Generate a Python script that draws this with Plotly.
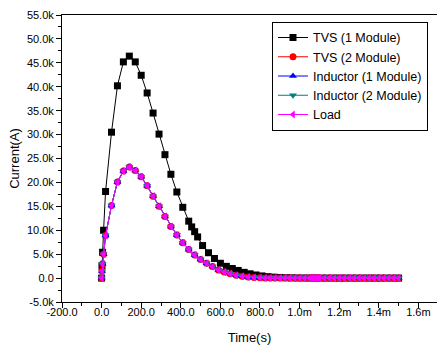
import plotly.graph_objects as go

# Time in microseconds, current in kA
t_tvs1 = [0, 2, 5, 10, 20, 50, 80, 110, 140, 170, 200, 230, 260, 290, 320, 350, 380, 410, 440,
          455, 470, 485, 510, 540, 570, 600, 630, 660, 690, 720, 750, 780, 810, 840, 870, 900,
          930, 960, 990, 1020, 1050, 1080, 1110, 1140, 1170, 1200, 1230, 1260, 1290, 1320,
          1350, 1380, 1410, 1440, 1470, 1500]
i_tvs1 = [0, 2.6, 5.4, 10.0, 18.1, 30.5, 40.2, 45.2, 46.4, 45.2, 42.4, 38.7, 34.5, 30.1, 25.8,
          21.7, 18.0, 14.8, 11.9, 10.7, 9.7, 8.6, 6.8, 5.3, 4.1, 3.1, 2.45, 2.0, 1.6, 1.2, 0.9,
          0.65, 0.45, 0.3, 0.2, 0.13, 0.08, 0.05, 0.03, 0.02, 0.01, 0.01, 0.0, 0.0, 0.0, 0.0,
          0.0, 0.0, 0.0, 0.0, 0.0, 0.0, 0.0, 0.0, 0.0, 0.0]

t_2mod = [0, 2, 5, 10, 20, 50, 80, 110, 140, 170, 200, 230, 260, 290, 320, 350, 380, 410, 440,
          470, 500, 530, 560, 590, 620, 650, 680, 710, 740, 770, 800, 825, 850, 875, 900, 925,
          950, 975, 1000, 1025, 1050, 1060, 1070, 1080, 1090, 1100, 1125, 1150, 1175, 1200,
          1225, 1250, 1275, 1300, 1325, 1350, 1375, 1400, 1425, 1450, 1475, 1500]
i_tvs2 = [0, 1.5, 3.0, 5.0, 8.9, 15.2, 20.1, 22.4, 23.2, 22.5, 21.2, 19.3, 17.1, 15.0, 12.9,
          10.8, 9.0, 7.4, 6.0, 4.8, 3.9, 3.1, 2.4, 1.7, 1.25, 0.9, 0.6, 0.38, 0.22, 0.12, 0.06,
          0.03, 0.02, 0.01, 0.0, 0.0, 0.0, 0.0, 0.0, 0.0, 0.0, 0.0, 0.0, 0.0, 0.0, 0.0, 0.0,
          0.0, 0.0, 0.0, 0.0, 0.0, 0.0, 0.0, 0.0, 0.0, 0.0, 0.0, 0.0, 0.0, 0.0, 0.0]
i_ind1 = [0, 1.5, 3.0, 5.0, 8.9, 15.2, 20.1, 22.4, 23.2, 22.5, 21.2, 19.3, 17.1, 15.0, 12.9,
          10.8, 9.0, 7.4, 6.0, 4.8, 3.9, 3.1, 2.4, 1.7, 1.25, 0.9, 0.6, 0.38, 0.22, 0.12, 0.06,
          0.03, 0.02, 0.01, 0.0, 0.0, 0.0, 0.0, 0.0, 0.0, 0.0, 0.0, 0.0, 0.0, 0.0, 0.0, 0.0,
          0.0, 0.0, 0.0, 0.0, 0.0, 0.0, 0.0, 0.0, 0.0, 0.0, 0.0, 0.0, 0.0, 0.0, 0.0]
i_ind2 = [0, 1.5, 3.0, 5.0, 8.9, 15.2, 20.1, 22.4, 23.2, 22.5, 21.2, 19.3, 17.1, 15.0, 12.9,
          10.8, 9.0, 7.4, 6.0, 4.8, 3.9, 3.1, 2.4, 1.7, 1.25, 0.9, 0.6, 0.38, 0.22, 0.12, 0.06,
          0.03, 0.02, 0.01, 0.0, 0.0, 0.0, 0.0, 0.0, 0.0, 0.0, 0.0, 0.0, 0.0, 0.0, 0.0, 0.0,
          0.0, 0.0, 0.0, 0.0, 0.0, 0.0, 0.0, 0.0, 0.0, 0.0, 0.0, 0.0, 0.0, 0.0, 0.0]
i_load = [0, 1.5, 3.0, 5.0, 8.9, 15.2, 20.1, 22.4, 23.2, 22.5, 21.2, 19.3, 17.1, 15.0, 12.9,
          10.8, 9.0, 7.4, 6.0, 4.8, 3.9, 3.1, 2.4, 1.7, 1.25, 0.9, 0.6, 0.38, 0.22, 0.12, 0.06,
          0.03, 0.02, 0.01, 0.0, 0.0, 0.0, 0.0, 0.0, 0.0, 0.0, 0.0, 0.0, 0.0, 0.0, 0.0, 0.0,
          0.0, 0.0, 0.0, 0.0, 0.0, 0.0, 0.0, 0.0, 0.0, 0.0, 0.0, 0.0, 0.0, 0.0, 0.0]

x_tickvals = [-200, 0, 200, 400, 600, 800, 1000, 1200, 1400, 1600]
x_ticktext = ["-200.0", "0.0", "200.0", "400.0", "600.0", "800.0", "1.0m", "1.2m", "1.4m", "1.6m"]
y_tickvals = [-5, 0, 5, 10, 15, 20, 25, 30, 35, 40, 45, 50, 55]
y_ticktext = ["-5.0k", "0.0", "5.0k", "10.0k", "15.0k", "20.0k", "25.0k", "30.0k", "35.0k",
              "40.0k", "45.0k", "50.0k", "55.0k"]

series = [
    ("TVS (1 Module)", t_tvs1, i_tvs1, "#000000", "square"),
    ("TVS (2 Module)", t_2mod, i_tvs2, "#FF0000", "circle"),
    ("Inductor (1 Module)", t_2mod, i_ind1, "#0000FF", "triangle-up"),
    ("Inductor (2 Module)", t_2mod, i_ind2, "#008080", "triangle-down"),
    ("Load", t_2mod, i_load, "#FF00FF", "triangle-left"),
]

fig = go.Figure()
for name, x, y, c, sym in series:
    fig.add_trace(go.Scatter(x=x, y=y, name=name, mode="lines+markers",
                             line=dict(color=c, width=1),
                             marker=dict(symbol=sym, size=7, color=c, line=dict(width=0))))

font = "Liberation Sans, Arial, sans-serif"
fig.update_layout(
    width=437, height=345,
    margin=dict(l=62, r=0, t=15, b=43),
    plot_bgcolor="white", paper_bgcolor="white",
    font=dict(family=font, color="black", size=11),
    showlegend=True,
    legend=dict(x=0.56, y=0.976, xanchor="left", yanchor="top",
                bordercolor="black", borderwidth=1, bgcolor="white",
                font=dict(size=12.5, family=font), tracegroupgap=0,
                itemwidth=30),
)
fig.update_xaxes(range=[-200, 1694], tickvals=x_tickvals, ticktext=x_ticktext,
                 showgrid=False, zeroline=False, showline=True, linecolor="black",
                 linewidth=1, mirror=True, ticks="outside", ticklen=5, tickcolor="black",
                 tickfont=dict(size=11), ticklabelstandoff=-5,
                 minor=dict(dtick=100, tick0=0, ticks="outside", ticklen=3, tickcolor="black"),
                 title=dict(text="Time(s)", font=dict(size=13), standoff=15))
fig.update_yaxes(range=[-5, 55], tickvals=y_tickvals, ticktext=y_ticktext,
                 showgrid=False, zeroline=False, showline=True, linecolor="black",
                 linewidth=1, mirror=False, ticks="outside", ticklen=5, tickcolor="black",
                 tickfont=dict(size=11),
                 minor=dict(dtick=2.5, tick0=0, ticks="outside", ticklen=3, tickcolor="black"),
                 title=dict(text="Current(A)", font=dict(size=13), standoff=4))

fig.write_html("out.html")
